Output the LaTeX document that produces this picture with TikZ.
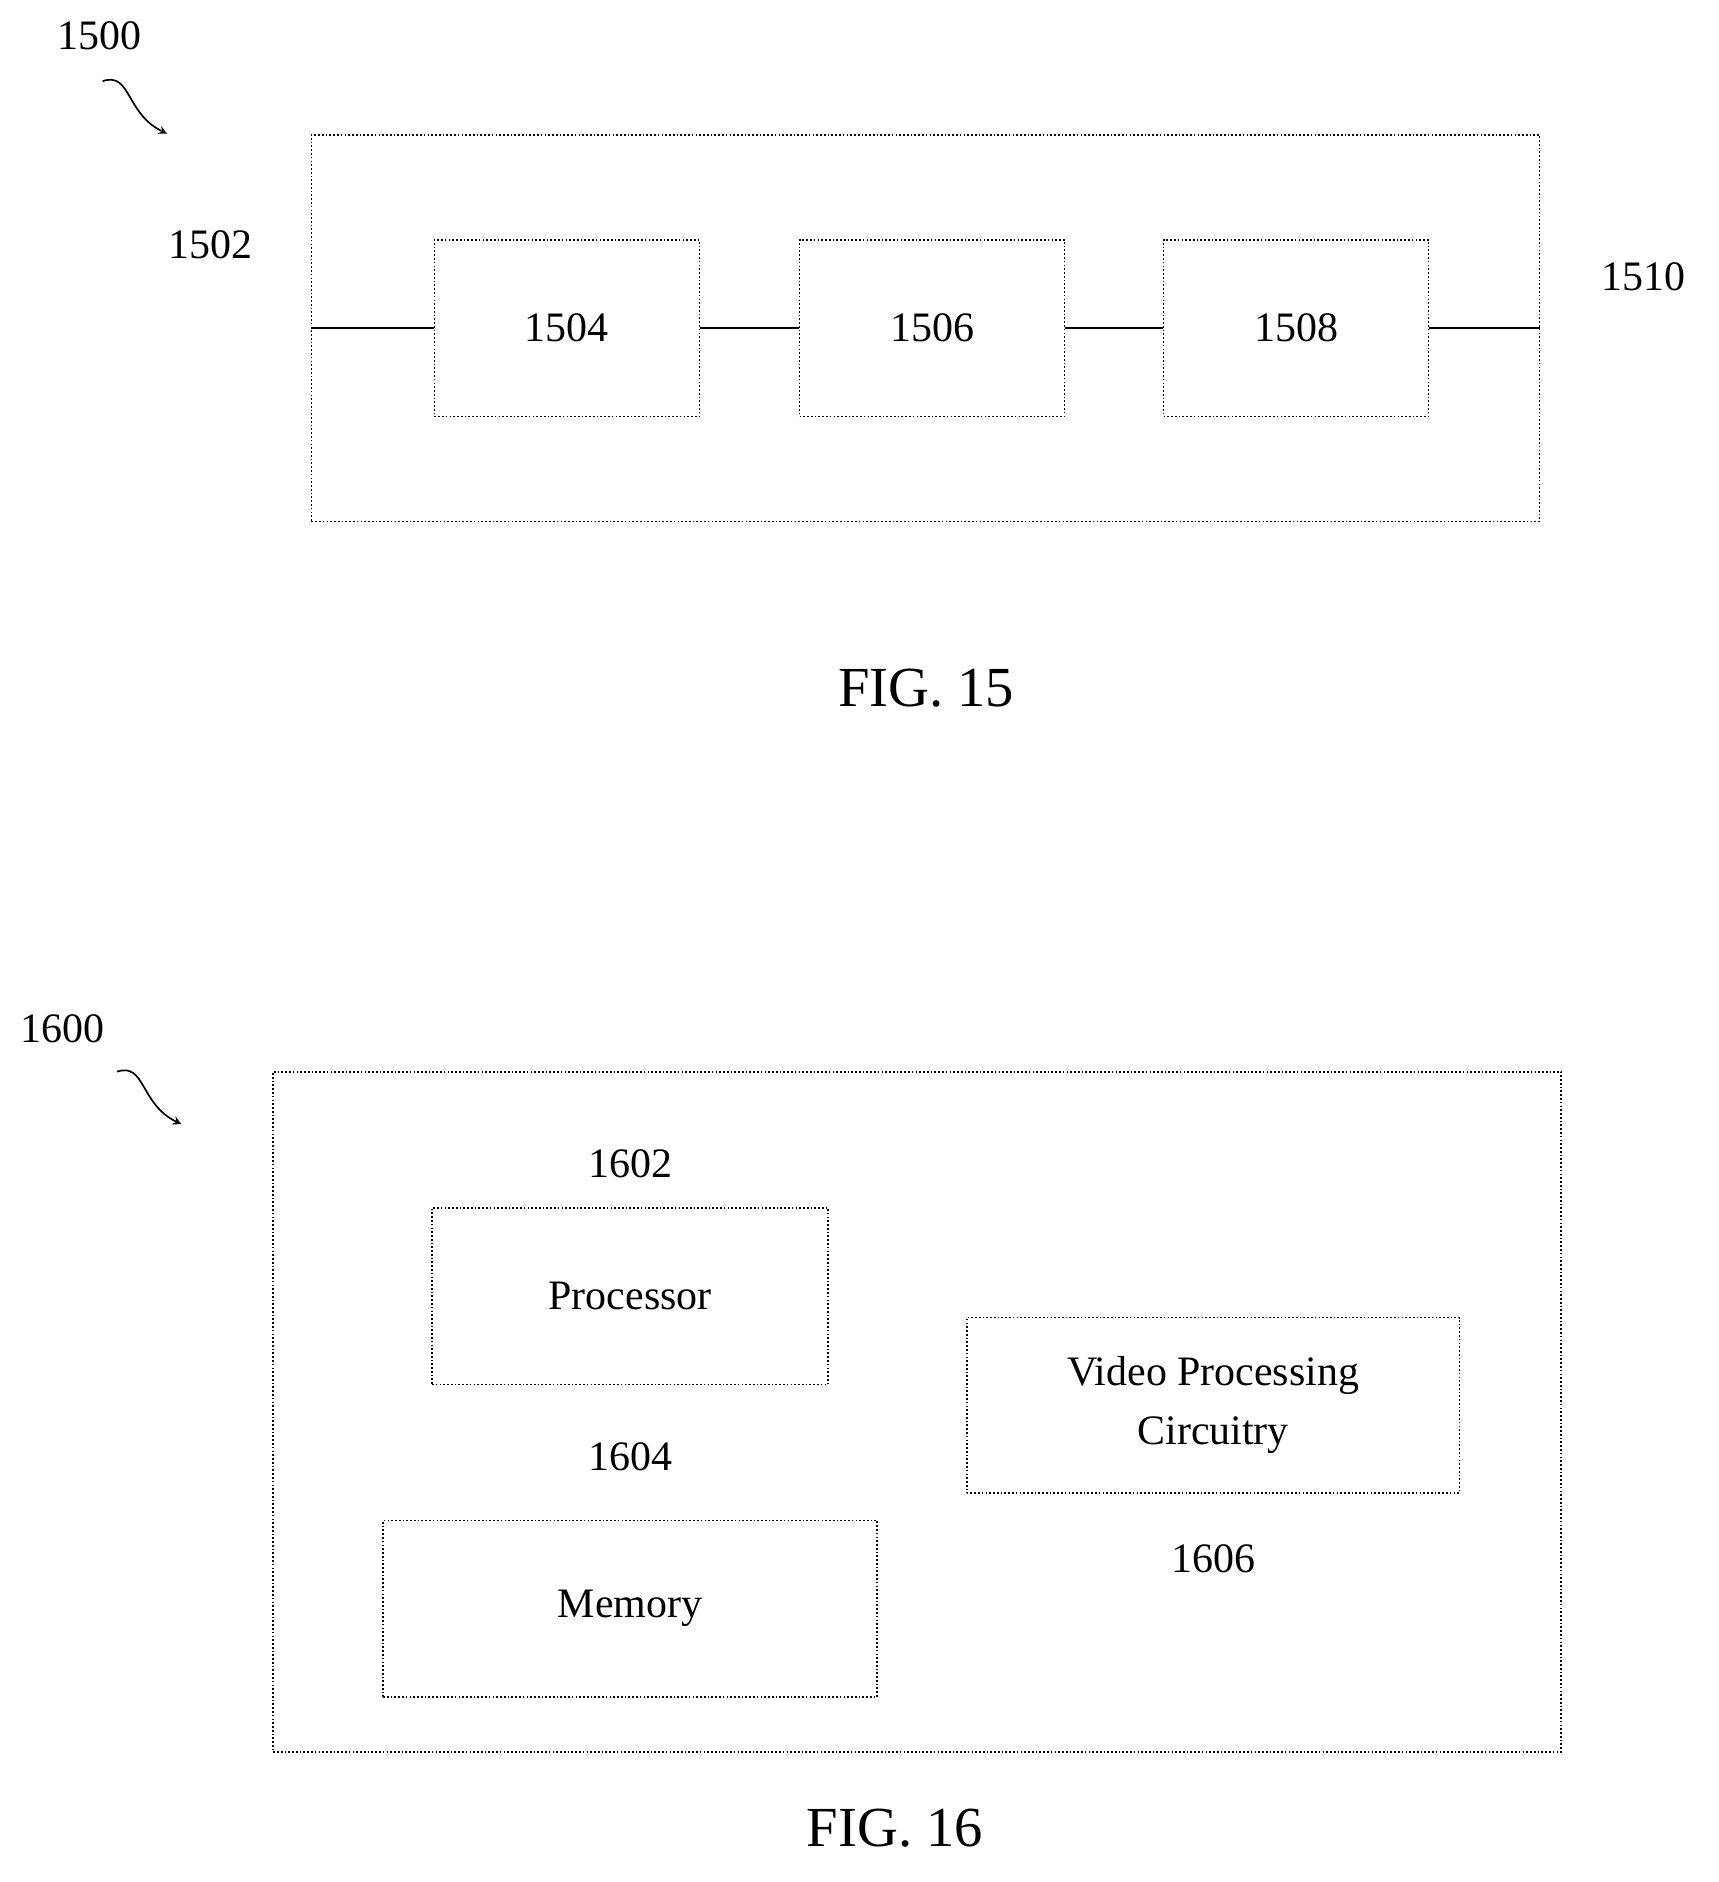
\documentclass[tikz,border=0pt]{standalone}
\usepackage{fontspec}
\setmainfont{Liberation Serif}
\usetikzlibrary{positioning}
\tikzset{
  blk/.style={draw, densely dotted, line width=0.8pt, inner sep=0pt},
  lbl/.style={font=\fontsize{20}{24}\selectfont},
  fig/.style={font=\fontsize{27}{32}\selectfont},
}
\begin{document}
\begin{tikzpicture}[x=0.02cm,y=-0.02cm]
\useasboundingbox (0,0) rectangle (1440,1577);
% FIG. 15
\node[lbl] (n1500) at (83,30) {1500};
\coordinate (a1) at (86,68);
\coordinate (a2) at (140,112);
\draw[->,>=stealth,thick] (a1) .. controls (110,60) and (105,95) .. (a2);
\node[blk,minimum width=1029*0.02cm,minimum height=324*0.02cm] (box15) at (775.5,275) {};
\node[lbl] (n1502) at (176,205) {1502};
\node[lbl] (n1510) at (1377,232) {1510};
\node[blk,lbl,minimum width=222*0.02cm,minimum height=148*0.02cm] (b1504) at (475,275) {1504};
\node[blk,lbl,minimum width=222*0.02cm,minimum height=148*0.02cm] (b1506) at (781,275) {1506};
\node[blk,lbl,minimum width=222*0.02cm,minimum height=148*0.02cm] (b1508) at (1086,275) {1508};
\draw[line width=0.8pt] (box15.west) -- (b1504);
\draw[line width=0.8pt] (b1504) -- (b1506);
\draw[line width=0.8pt] (b1506) -- (b1508);
\draw[line width=0.8pt] (b1508) -- (box15.east);
\node[fig] (fig15) at (776,577) {FIG. 15};
% FIG. 16
\node[lbl] (n1600) at (52,862) {1600};
\coordinate (c1) at (98,898);
\coordinate (c2) at (152,942);
\draw[->,>=stealth,thick] (c1) .. controls (122,890) and (117,925) .. (c2);
\node[blk,minimum width=1079*0.02cm,minimum height=570*0.02cm] (box16) at (768.5,1183) {};
\node[lbl] (n1602) at (528,975) {1602};
\node[blk,lbl,minimum width=332*0.02cm,minimum height=148*0.02cm] (proc) at (528,1086) {Processor};
\node[lbl] (n1604) at (528,1221) {1604};
\node[blk,lbl,minimum width=414*0.02cm,minimum height=148*0.02cm] (mem) at (528,1348) {Memory};
\node[blk,lbl,minimum width=413*0.02cm,minimum height=147*0.02cm,align=center] (vpc) at (1016.5,1177.5) {Video Processing\\[4pt]Circuitry};
\node[lbl] (n1606) at (1017,1306) {1606};
\node[fig] (fig16) at (750,1532) {FIG. 16};
\end{tikzpicture}
\end{document}
